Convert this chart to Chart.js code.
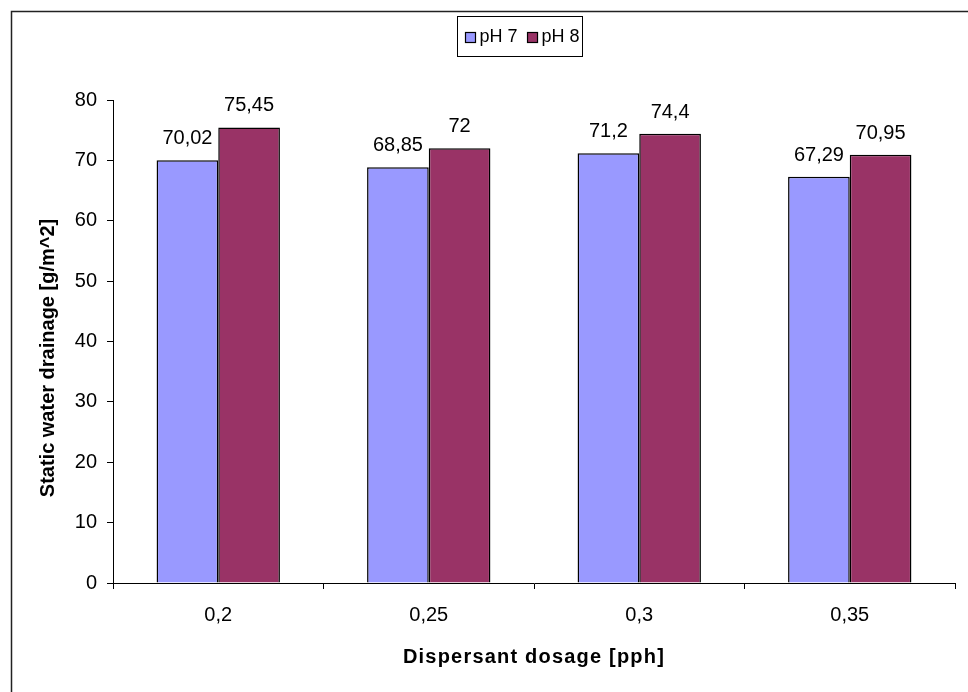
<!DOCTYPE html>
<html>
<head>
<meta charset="utf-8">
<style>
  html, body { margin: 0; padding: 0; background: #ffffff; }
  #wrap { width: 968px; height: 692px; }
</style>
<script src="https://cdn.jsdelivr.net/npm/chart.js@4/dist/chart.umd.min.js"></script>
</head>
<body>
<div id="wrap"><canvas id="c" width="968" height="692"></canvas></div>
<script>
// Dosage categories and drainage values per pH
const dosages = ['0,2', '0,25', '0,3', '0,35'];
const seriesNames = ['pH 7', 'pH 8'];
const drainagePH7 = [70.02, 68.85, 71.2, 67.29];
const drainagePH8 = [75.45, 72, 74.4, 70.95];
const yTicks = [0, 10, 20, 30, 40, 50, 60, 70, 80];
const xTitle = 'Dispersant dosage [pph]';
const yTitle = 'Static water drainage [g/m^2]';

const colPH7 = '#9999FF';
const colPH8 = '#993366';
const FONT = "'Liberation Sans', Arial, sans-serif";

const fmt = v => String(v).replace('.', ',');

// White page with a frame along the top and left edges
const framePlugin = {
  id: 'frame',
  beforeDraw(chart) {
    const ctx = chart.ctx;
    ctx.save();
    ctx.fillStyle = '#ffffff';
    ctx.fillRect(0, 0, chart.width, chart.height);
    ctx.strokeStyle = '#222222';
    ctx.lineWidth = 1.5;
    ctx.beginPath();
    ctx.moveTo(11.5, chart.height + 2);
    ctx.lineTo(11.5, 11.5);
    ctx.lineTo(chart.width + 2, 11.5);
    ctx.stroke();
    ctx.restore();
  }
};

// Boxed legend near the top
const boxLegendPlugin = {
  id: 'boxLegend',
  afterDraw(chart) {
    const ctx = chart.ctx;
    const ds = chart.data.datasets;
    ctx.save();
    ctx.font = '18px ' + FONT;
    const sq = 10, gapSq = 4, gapItem = 10, padL = 8, padR = 3;
    const widths = ds.map(d => ctx.measureText(d.label).width);
    let total = padL + padR;
    widths.forEach((w, i) => { total += sq + gapSq + w + (i < ds.length - 1 ? gapItem : 0); });
    const left = 457.5;
    const top = 16.5, h = 40;
    ctx.strokeStyle = '#000000';
    ctx.lineWidth = 1;
    ctx.strokeRect(left, top, Math.round(total), h);
    let x = left + padL;
    const cy = top + h / 2 + 1;
    ds.forEach((d, i) => {
      ctx.fillStyle = d.backgroundColor;
      ctx.fillRect(x, cy - sq / 2, sq, sq);
      ctx.lineWidth = 1.2;
      ctx.strokeStyle = '#000000';
      ctx.strokeRect(x, cy - sq / 2, sq, sq);
      x += sq + gapSq;
      ctx.fillStyle = '#000000';
      ctx.textBaseline = 'middle';
      ctx.textAlign = 'left';
      ctx.fillText(d.label, x, cy);
      x += widths[i] + gapItem;
    });
    ctx.restore();
  }
};

// Axis titles: spaced-out horizontal one, rotated vertical one
const axisTitlePlugin = {
  id: 'axisTitles',
  afterDraw(chart) {
    const ctx = chart.ctx;
    const xs = chart.scales.x;
    ctx.save();
    ctx.font = 'bold 20px ' + FONT;
    ctx.fillStyle = '#000000';
    ctx.textAlign = 'center';
    ctx.textBaseline = 'middle';
    ctx.letterSpacing = '1.2px';
    ctx.fillText(xTitle, (xs.left + xs.right) / 2, xs.bottom - 35);
    ctx.letterSpacing = '0px';
    ctx.translate(48, 358);
    ctx.rotate(-Math.PI / 2);
    ctx.fillText(yTitle, 0, 0);
    ctx.restore();
  }
};

// Value labels above each bar
const valueLabelPlugin = {
  id: 'valueLabels',
  afterDatasetsDraw(chart) {
    const ctx = chart.ctx;
    ctx.save();
    ctx.font = '20px ' + FONT;
    ctx.fillStyle = '#000000';
    ctx.textAlign = 'center';
    ctx.textBaseline = 'alphabetic';
    chart.data.datasets.forEach((d, di) => {
      const meta = chart.getDatasetMeta(di);
      meta.data.forEach((bar, i) => {
        ctx.fillText(fmt(d.data[i]), bar.x, bar.y - 16);
      });
    });
    ctx.restore();
  }
};

new Chart(document.getElementById('c'), {
  type: 'bar',
  data: {
    labels: dosages,
    datasets: [
      { label: seriesNames[0], data: drainagePH7, backgroundColor: colPH7, borderColor: '#000000', borderWidth: 1.5, categoryPercentage: 0.586, barPercentage: 1 },
      { label: seriesNames[1], data: drainagePH8, backgroundColor: colPH8, borderColor: '#000000', borderWidth: 1.5, categoryPercentage: 0.586, barPercentage: 1 }
    ]
  },
  options: {
    responsive: false,
    animation: false,
    devicePixelRatio: 1,
    layout: { padding: { left: 12, top: 100, right: 13, bottom: 0 } },
    plugins: {
      legend: { display: false },
      tooltip: { enabled: false }
    },
    scales: {
      x: {
        grid: { display: true, drawOnChartArea: false, offset: true, color: '#000000', tickLength: 6, lineWidth: 1 },
        border: { display: true, color: '#000000', width: 1 },
        ticks: { color: '#000000', font: { family: FONT, size: 20 }, padding: 14, maxRotation: 0 },
        title: { display: false },
        afterFit(scale) { scale.height = 109; }
      },
      y: {
        min: 0,
        max: 80,
        afterBuildTicks(scale) { scale.ticks = yTicks.map(v => ({ value: v })); },
        grid: { display: true, drawOnChartArea: false, color: '#000000', tickLength: 6, lineWidth: 1 },
        border: { display: true, color: '#000000', width: 1 },
        ticks: { color: '#000000', font: { family: FONT, size: 20 }, padding: 10 },
        title: { display: false },
        afterFit(scale) { scale.width = 101; }
      }
    }
  },
  plugins: [framePlugin, boxLegendPlugin, axisTitlePlugin, valueLabelPlugin]
});
</script>
</body>
</html>
